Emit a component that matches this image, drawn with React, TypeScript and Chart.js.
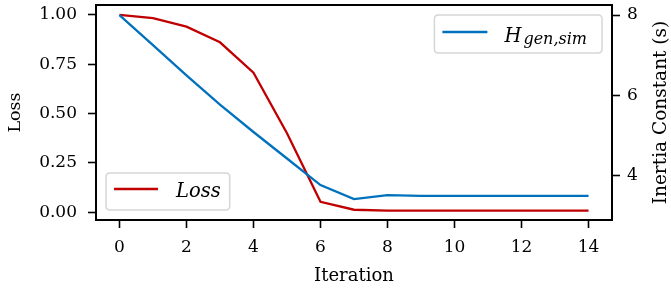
import React, { useEffect, useRef } from "react";
import { Chart, registerables } from "chart.js";

Chart.register(...registerables);

const iterations = [0, 1, 2, 3, 4, 5, 6, 7, 8, 9, 10, 11, 12, 13, 14];
const lossValues = [1.0, 0.983, 0.94, 0.861, 0.707, 0.4, 0.052, 0.012, 0.008, 0.008, 0.008, 0.008, 0.008, 0.008, 0.008];
const inertiaValues = [8.0, 7.25, 6.5, 5.77, 5.09, 4.43, 3.77, 3.42, 3.52, 3.5, 3.5, 3.5, 3.5, 3.5, 3.5];
const xTicks = [0, 2, 4, 6, 8, 10, 12, 14];
const lossTicks = [0, 0.25, 0.5, 0.75, 1.0];
const inertiaTicks = [4, 6, 8];

const RED = "#c00000";
const BLUE = "#0072bd";
const FONT = "'DejaVu Serif', serif";

function roundRect(ctx: CanvasRenderingContext2D, x: number, y: number, w: number, h: number, r: number) {
  ctx.beginPath();
  ctx.moveTo(x + r, y);
  ctx.lineTo(x + w - r, y);
  ctx.quadraticCurveTo(x + w, y, x + w, y + r);
  ctx.lineTo(x + w, y + h - r);
  ctx.quadraticCurveTo(x + w, y + h, x + w - r, y + h);
  ctx.lineTo(x + r, y + h);
  ctx.quadraticCurveTo(x, y + h, x, y + h - r);
  ctx.lineTo(x, y + r);
  ctx.quadraticCurveTo(x, y, x + r, y);
  ctx.closePath();
}

const framePlugin = {
  id: "frameAndLegends",
  afterDatasetsDraw(chart: any) {
    const { ctx, chartArea } = chart;
    const { left, right, top, bottom } = chartArea;
    ctx.save();
    // frame
    ctx.strokeStyle = "#000";
    ctx.lineWidth = 2;
    ctx.strokeRect(left, top, right - left, bottom - top);

    // Loss legend (lower left)
    const fMain = `italic 19.5px ${FONT}`;
    ctx.font = fMain;
    const lossW = ctx.measureText("Loss").width;
    const boxH = 37;
    const lx = left + 10;
    const ly = bottom - 10 - boxH;
    const lw = 8 + 44 + 18 + lossW + 9;
    roundRect(ctx, lx, ly, lw, boxH, 4);
    ctx.fillStyle = "rgba(255,255,255,0.85)";
    ctx.fill();
    ctx.strokeStyle = "#d6d6d6";
    ctx.lineWidth = 1.5;
    ctx.stroke();
    ctx.strokeStyle = RED;
    ctx.lineWidth = 2.3;
    ctx.beginPath();
    ctx.moveTo(lx + 8, ly + 16);
    ctx.lineTo(lx + 52, ly + 16);
    ctx.stroke();
    ctx.fillStyle = "#000";
    ctx.textBaseline = "alphabetic";
    ctx.textAlign = "left";
    ctx.fillText("Loss", lx + 70, ly + 24);

    // H legend (upper right)
    ctx.font = fMain;
    const hW = ctx.measureText("H").width;
    const fSub = `italic 16px ${FONT}`;
    ctx.font = fSub;
    const subW = ctx.measureText("gen,sim").width;
    const hBoxH = 38;
    const hw = 8 + 45 + 17 + hW + 2 + subW + 15;
    const hx = right - 10 - hw;
    const hy = top + 10;
    roundRect(ctx, hx, hy, hw, hBoxH, 4);
    ctx.fillStyle = "rgba(255,255,255,0.85)";
    ctx.fill();
    ctx.strokeStyle = "#d6d6d6";
    ctx.lineWidth = 1.5;
    ctx.stroke();
    ctx.strokeStyle = BLUE;
    ctx.lineWidth = 2.3;
    ctx.beginPath();
    ctx.moveTo(hx + 8, hy + 17);
    ctx.lineTo(hx + 53, hy + 17);
    ctx.stroke();
    ctx.fillStyle = "#000";
    ctx.font = fMain;
    ctx.fillText("H", hx + 70, hy + 26.5);
    ctx.font = fSub;
    ctx.fillText("gen,sim", hx + 70 + hW + 2, hy + 29);

    // right axis title
    ctx.font = `18.5px ${FONT}`;
    ctx.textAlign = "center";
    ctx.textBaseline = "middle";
    ctx.translate(661, (top + bottom) / 2);
    ctx.rotate(-Math.PI / 2);
    ctx.fillText("Inertia Constant (s)", 0, 0);
    ctx.restore();
  },
};

export default function App() {
  const ref = useRef<HTMLCanvasElement | null>(null);
  useEffect(() => {
    document.body.style.margin = "0";
    const canvas = ref.current;
    if (!canvas) return;
    const tickFont = { family: FONT, size: 17 };
    const chart = new Chart(canvas, {
      type: "line",
      data: {
        datasets: [
          {
            label: "Loss",
            data: iterations.map((x, i) => ({ x, y: lossValues[i] })),
            borderColor: RED,
            borderWidth: 2.3,
            pointRadius: 0,
            tension: 0,
            yAxisID: "y",
            order: 1,
          },
          {
            label: "H_gen,sim",
            data: iterations.map((x, i) => ({ x, y: inertiaValues[i] })),
            borderColor: BLUE,
            borderWidth: 2.3,
            pointRadius: 0,
            tension: 0,
            yAxisID: "y1",
            order: 0,
          },
        ],
      },
      options: {
        responsive: false,
        animation: false,
        layout: { padding: { top: 5, left: 0, right: 0, bottom: 0 } },
        plugins: { legend: { display: false }, tooltip: { enabled: false } },
        scales: {
          x: {
            type: "linear",
            min: -0.7,
            max: 14.7,
            afterBuildTicks: (s: any) => {
              s.ticks = xTicks.map((v) => ({ value: v }));
            },
            afterFit: (s: any) => {
              s.height = 73;
              s.paddingLeft = 0;
              s.paddingRight = 0;
            },
            grid: { drawOnChartArea: false, drawTicks: true, tickLength: 8, tickColor: "#000", tickWidth: 1.6 },
            border: { display: false },
            ticks: { font: tickFont, color: "#000", padding: 9, maxRotation: 0, autoSkip: false, callback: (v: any) => String(v) },
            title: { display: true, text: "Iteration", font: { family: FONT, size: 18 }, color: "#000", padding: { top: 0, bottom: 6 } },
          },
          y: {
            type: "linear",
            position: "left",
            min: -0.04,
            max: 1.05,
            afterBuildTicks: (s: any) => {
              s.ticks = lossTicks.map((v) => ({ value: v }));
            },
            afterFit: (s: any) => {
              s.width = 96;
              s.paddingTop = 0;
              s.paddingBottom = 0;
            },
            grid: { drawOnChartArea: false, drawTicks: true, tickLength: 8, tickColor: "#000", tickWidth: 1.6 },
            border: { display: false },
            ticks: { font: tickFont, color: "#000", padding: 11, callback: (v: any) => Number(v).toFixed(2) },
            title: { display: true, text: "Loss", font: { family: FONT, size: 17.5 }, color: "#000", padding: { top: 5, bottom: 0 } },
          },
          y1: {
            type: "linear",
            position: "right",
            min: 2.9,
            max: 8.25,
            afterBuildTicks: (s: any) => {
              s.ticks = inertiaTicks.map((v) => ({ value: v }));
            },
            afterFit: (s: any) => {
              s.width = 59;
              s.paddingTop = 0;
              s.paddingBottom = 0;
            },
            grid: { drawOnChartArea: false, drawTicks: true, tickLength: 8, tickColor: "#000", tickWidth: 1.6 },
            border: { display: false },
            ticks: { font: tickFont, color: "#000", padding: 7, callback: (v: any) => String(v) },
          },
        },
      } as any,
      plugins: [framePlugin],
    });
    return () => chart.destroy();
  }, []);
  return (
    <div style={{ width: 671, height: 293 }}>
      <canvas ref={ref} width={671} height={293} style={{ display: "block" }} />
    </div>
  );
}
